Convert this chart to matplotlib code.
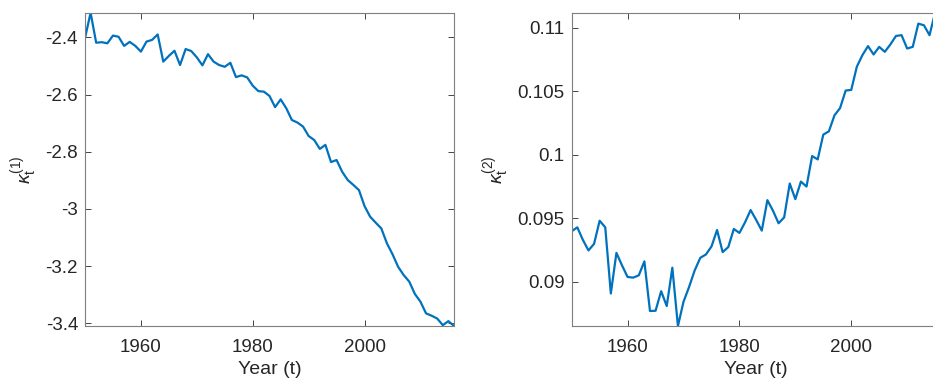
import matplotlib
matplotlib.use("Agg")
import matplotlib.pyplot as plt
from matplotlib.ticker import FuncFormatter

years = list(range(1950, 2017))

kappa1 = [-2.403, -2.314, -2.419, -2.417, -2.421, -2.394, -2.398, -2.430, -2.416, -2.430,
          -2.450, -2.415, -2.409, -2.390, -2.485, -2.465, -2.447, -2.497, -2.441, -2.448,
          -2.470, -2.498, -2.459, -2.485, -2.497, -2.503, -2.489, -2.539, -2.533, -2.540,
          -2.569, -2.588, -2.590, -2.605, -2.644, -2.617, -2.648, -2.689, -2.698, -2.712,
          -2.745, -2.759, -2.790, -2.776, -2.836, -2.829, -2.870, -2.899, -2.916, -2.934,
          -2.990, -3.027, -3.048, -3.068, -3.120, -3.158, -3.202, -3.231, -3.254, -3.297,
          -3.324, -3.365, -3.373, -3.383, -3.406, -3.392, -3.409]

kappa2 = [0.09399, 0.09430, 0.09331, 0.09248, 0.09300, 0.09482, 0.09430, 0.08909, 0.09229, 0.09130,
          0.09039, 0.09034, 0.09052, 0.09162, 0.08771, 0.08773, 0.08927, 0.08810, 0.09112, 0.08653,
          0.08844, 0.08961, 0.09091, 0.09190, 0.09216, 0.09279, 0.09409, 0.09235, 0.09274, 0.09417,
          0.09386, 0.09469, 0.09566, 0.09488, 0.09404, 0.09644, 0.09561, 0.09462, 0.09508, 0.09775,
          0.09652, 0.09790, 0.09751, 0.09991, 0.09965, 0.10160, 0.10186, 0.10312, 0.10369, 0.10507,
          0.10512, 0.10695, 0.10786, 0.10857, 0.10791, 0.10851, 0.10812, 0.10870, 0.10937, 0.10943,
          0.10838, 0.10851, 0.11034, 0.11021, 0.10943, 0.11120, 0.11080]

xticks = [1960, 1980, 2000]
yticks1 = [-3.4, -3.2, -3.0, -2.8, -2.6, -2.4]
yticks2 = [0.09, 0.095, 0.1, 0.105, 0.11]
ylabels = [r'$\kappa_{\mathrm{t}}^{(1)}$', r'$\kappa_{\mathrm{t}}^{(2)}$']
xlabel = 'Year (t)'

plt.rcParams['font.family'] = ['Liberation Sans', 'DejaVu Sans']
plt.rcParams['axes.unicode_minus'] = False
plt.rcParams['mathtext.fontset'] = 'custom'
plt.rcParams['mathtext.rm'] = 'Liberation Sans'
plt.rcParams['mathtext.it'] = 'Liberation Sans:italic'

W, H = 933, 382
fig = plt.figure(figsize=(W / 100, H / 100), dpi=100)

line_color = '#0072BD'
axis_color = '#262626'
text_color = '#262626'

positions = [
    [85 / W, (H - 326) / H, 369 / W, 313.3 / H],
    [571.7 / W, (H - 326) / H, 369 / W, 313.3 / H],
]

fmt = FuncFormatter(lambda v, p: ('%g' % round(v, 6)))

for i, (vals, yt, yl) in enumerate([(kappa1, yticks1, ylabels[0]), (kappa2, yticks2, ylabels[1])]):
    ax = fig.add_axes(positions[i])
    ax.plot(years, vals, color=line_color, linewidth=1.6)
    ax.set_xlim(years[0], years[-1])
    ax.set_ylim(min(vals), max(vals))
    ax.set_xticks(xticks)
    ax.set_yticks(yt)
    ax.yaxis.set_major_formatter(fmt)
    ax.tick_params(direction='in', length=4, width=0.6, colors=axis_color,
                   labelcolor=text_color, labelsize=13.5, top=True, right=True)
    ax.tick_params(axis='y', pad=5)
    ax.tick_params(axis='x', pad=9)
    for s in ax.spines.values():
        s.set_color('#7f7f7f')
        s.set_linewidth(0.8)
    ax.set_xlabel(xlabel, fontsize=14, color=text_color, labelpad=4)
    ax.set_ylabel(yl, fontsize=14, color=text_color, labelpad=4)

fig.savefig('out.png', dpi=100)
